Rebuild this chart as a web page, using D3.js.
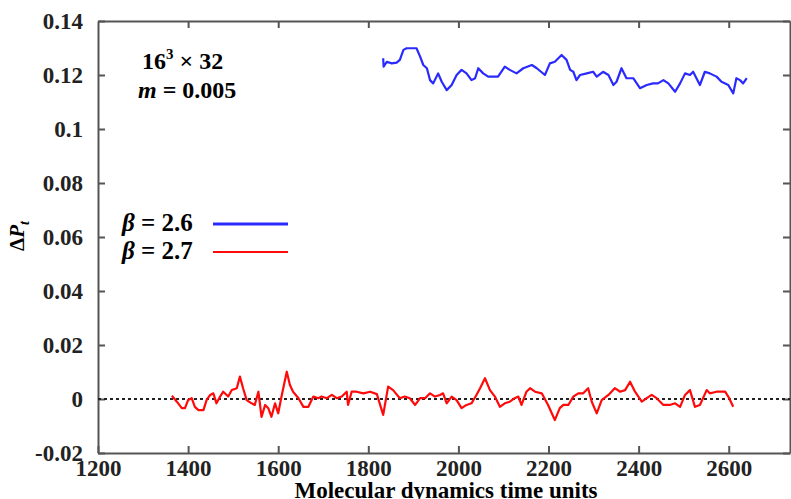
<!DOCTYPE html>
<html>
<head>
<meta charset="utf-8">
<script src="https://cdn.jsdelivr.net/npm/d3@7"></script>
</head>
<body style="margin:0; background:#fff">
<div id="chart"></div>
<script>
// beta = 2.6 run
var blueX = [1833,1834,1841,1852,1863,1870,1878,1885,1907,1915,1922,1930,1937,1944,1955,1963,1974,1985,1996,2007,
  2018,2029,2037,2044,2055,2066,2077,2088,2103,2114,2129,2144,2163,2174,2192,2203,2214,2229,2240,2248,
  2255,2262,2270,2285,2299,2307,2321,2333,2344,2351,2362,2373,2388,2403,2418,2432,2443,2455,2466,2481,
  2492,2503,2514,2521,2536,2547,2558,2573,2584,2599,2610,2617,2625,2632,2640];
var blueY = [0.1262,0.1231,0.1249,0.1243,0.1246,0.1256,0.1293,0.1299,0.1299,0.1268,0.1237,0.1225,0.1181,0.1169,0.1206,0.1175,0.1144,0.1163,0.1200,0.1219,
  0.1206,0.1181,0.1188,0.1225,0.1206,0.1194,0.1194,0.1194,0.1231,0.1219,0.1206,0.1225,0.1237,0.1225,0.1200,0.1243,0.1249,0.1274,0.1256,0.1219,
  0.1212,0.1181,0.1200,0.1206,0.1212,0.1194,0.1212,0.1200,0.1163,0.1175,0.1225,0.1188,0.1188,0.1151,0.1163,0.1169,0.1169,0.1181,0.1169,0.1138,
  0.1169,0.1206,0.1200,0.1212,0.1163,0.1212,0.1206,0.1194,0.1175,0.1163,0.1132,0.1188,0.1181,0.1169,0.1188];

// beta = 2.7 run
var redX = [1364,1375,1386,1393,1400,1408,1415,1423,1434,1441,1449,1456,1463,1471,1478,1489,1497,1508,1515,1522,
  1530,1541,1548,1556,1563,1571,1578,1585,1593,1600,1608,1619,1626,1633,1645,1656,1667,1678,1689,1696,
  1708,1719,1730,1741,1752,1755,1763,1774,1789,1804,1819,1833,1844,1855,1870,1881,1892,1904,1915,1926,
  1937,1948,1959,1966,1974,1985,1996,2007,2018,2029,2040,2048,2059,2070,2081,2092,2103,2114,2125,2133,
  2140,2151,2159,2170,2185,2199,2214,2225,2233,2244,2255,2266,2277,2288,2296,2307,2318,2333,2347,2359,
  2370,2381,2392,2407,2418,2429,2440,2455,2469,2481,2492,2503,2514,2525,2536,2551,2558,2573,2592,2599,2610];
var redY = [0.0012,-0.0010,-0.0034,-0.0034,-0.0004,0.0003,-0.0029,-0.0041,-0.0041,-0.0004,0.0015,0.0021,-0.0016,0.0009,0.0027,0.0009,0.0033,0.0040,0.0083,0.0040,
  -0.0004,-0.0016,-0.0022,0.0027,-0.0066,-0.0022,-0.0034,-0.0066,-0.0016,-0.0053,0.0015,0.0101,0.0052,0.0027,0.0003,-0.0029,-0.0029,0.0009,0.0003,0.0009,
  0.0003,0.0015,0.0003,0.0009,0.0027,-0.0022,0.0027,0.0027,0.0021,0.0027,0.0018,-0.0059,0.0046,0.0033,0.0003,0.0009,0.0003,-0.0022,0.0003,0.0003,
  0.0021,0.0009,0.0015,0.0021,-0.0016,0.0009,-0.0004,-0.0034,-0.0022,-0.0016,0.0015,0.0040,0.0077,0.0033,0.0009,-0.0029,-0.0016,-0.0010,0.0003,0.0009,
  -0.0022,0.0027,0.0040,0.0027,0.0021,-0.0022,-0.0078,-0.0034,-0.0022,-0.0022,0.0009,0.0021,0.0021,0.0040,-0.0010,-0.0053,-0.0004,0.0015,0.0040,0.0027,
  0.0033,0.0064,0.0027,-0.0010,0.0003,0.0015,0.0003,-0.0022,-0.0022,-0.0016,-0.0029,0.0015,0.0033,-0.0029,-0.0022,0.0033,0.0021,0.0027,0.0027,0.0009,-0.0029];

var xTicks = [1200, 1400, 1600, 1800, 2000, 2200, 2400, 2600];
var yTicks = [-0.02, 0, 0.02, 0.04, 0.06, 0.08, 0.1, 0.12, 0.14];
var xRange = [1200, 2736];
var yRange = [-0.02, 0.14];

var legendLabels = ["2.6", "2.7"];
var colours = ["#2a2aff", "#ff0a0a"];

var margin = {left: 98, top: 21, right: 1, bottom: 46},
    width = 791 - margin.left - margin.right,
    height = 499 - margin.top - margin.bottom;

var svg = d3.select("#chart").append("svg")
    .attr("width", 791)
    .attr("height", 499);

var g = svg.append("g")
    .attr("transform", "translate(" + margin.left + "," + margin.top + ")");

var x = d3.scaleLinear().domain(xRange).range([0, width]);
var y = d3.scaleLinear().domain(yRange).range([height, 0]);

var fmtY = function(d) { return d === 0 ? "0" : String(+d.toFixed(2)); };

function styleAxis(sel) {
  sel.attr("font-family", null);
  sel.selectAll("path, line").attr("stroke", "#555").attr("stroke-width", 2);
  sel.selectAll("text").style("font-size", "23px").attr("fill", "#222");
}

// frame with inward ticks on all four sides
g.append("g")
    .attr("transform", "translate(0," + height + ")")
    .call(d3.axisBottom(x).tickValues(xTicks).tickSizeInner(-7).tickSizeOuter(0).tickPadding(7).tickFormat(d3.format("d")))
    .call(styleAxis);

g.append("g")
    .call(d3.axisTop(x).tickValues(xTicks.slice(1)).tickSizeInner(-7).tickSizeOuter(0).tickFormat(""))
    .call(styleAxis);

g.append("g")
    .call(d3.axisLeft(y).tickValues(yTicks).tickSizeInner(-7).tickSizeOuter(0).tickPadding(15).tickFormat(fmtY))
    .call(styleAxis);

g.append("g")
    .attr("transform", "translate(" + width + ",0)")
    .call(d3.axisRight(y).tickValues(yTicks).tickSizeInner(-7).tickSizeOuter(0).tickFormat(""))
    .call(styleAxis);

// zero reference
g.append("line")
    .attr("x1", x(xRange[0])).attr("x2", x(xRange[1]))
    .attr("y1", y(0)).attr("y2", y(0))
    .attr("stroke", "#222")
    .attr("stroke-width", 2)
    .attr("stroke-dasharray", "3,3");

var line = d3.line()
    .x(function(d) { return x(d[0]); })
    .y(function(d) { return y(d[1]); });

var series = [d3.zip(blueX, blueY), d3.zip(redX, redY)];

g.selectAll(".series")
    .data(series)
  .enter().append("path")
    .attr("class", "series")
    .attr("d", line)
    .attr("fill", "none")
    .attr("stroke", function(d, i) { return colours[i]; })
    .attr("stroke-width", 2.2)
    .attr("stroke-linejoin", "round");

// legend
var legend = svg.append("g");
legendLabels.forEach(function(l, i) {
  var yy = 231 + i * 28;
  var t = legend.append("text")
      .attr("x", 122).attr("y", yy)
      .style("font-size", "25px");
  t.append("tspan").style("font-style", "italic").text("\u03B2");
  t.append("tspan").text(" = " + l);
  legend.append("line")
      .attr("x1", 213).attr("x2", 288)
      .attr("y1", yy - 7).attr("y2", yy - 7)
      .attr("stroke", colours[i])
      .attr("stroke-width", i === 0 ? 3 : 2);
});

// lattice annotation
var ann = svg.append("g");
var a1 = ann.append("text").attr("x", 142).attr("y", 69).style("font-size", "24px");
a1.append("tspan").text("16");
a1.append("tspan").attr("dy", -10).style("font-size", "15px").text("3");
a1.append("tspan").attr("dy", 10).text(" \u00D7 32");
var a2 = ann.append("text").attr("x", 138).attr("y", 98).style("font-size", "24px");
a2.append("tspan").style("font-style", "italic").text("m");
a2.append("tspan").text(" = 0.005");

// axis titles
svg.append("text")
    .attr("x", 446).attr("y", 498)
    .attr("text-anchor", "middle")
    .style("font-size", "23px")
    .text("Molecular dynamics time units");

var yt = svg.append("text")
    .attr("transform", "translate(24,236) rotate(-90)")
    .attr("text-anchor", "middle")
    .style("font-size", "21px");
yt.append("tspan").text("\u0394");
yt.append("tspan").style("font-style", "italic").text("P");
yt.append("tspan").attr("dy", 5).style("font-style", "italic").style("font-size", "14px").text("t");

// serif bold everywhere, set inline
svg.selectAll("text")
    .style("font-family", "'Liberation Serif'")
    .style("font-weight", "bold");
</script>
</body>
</html>
